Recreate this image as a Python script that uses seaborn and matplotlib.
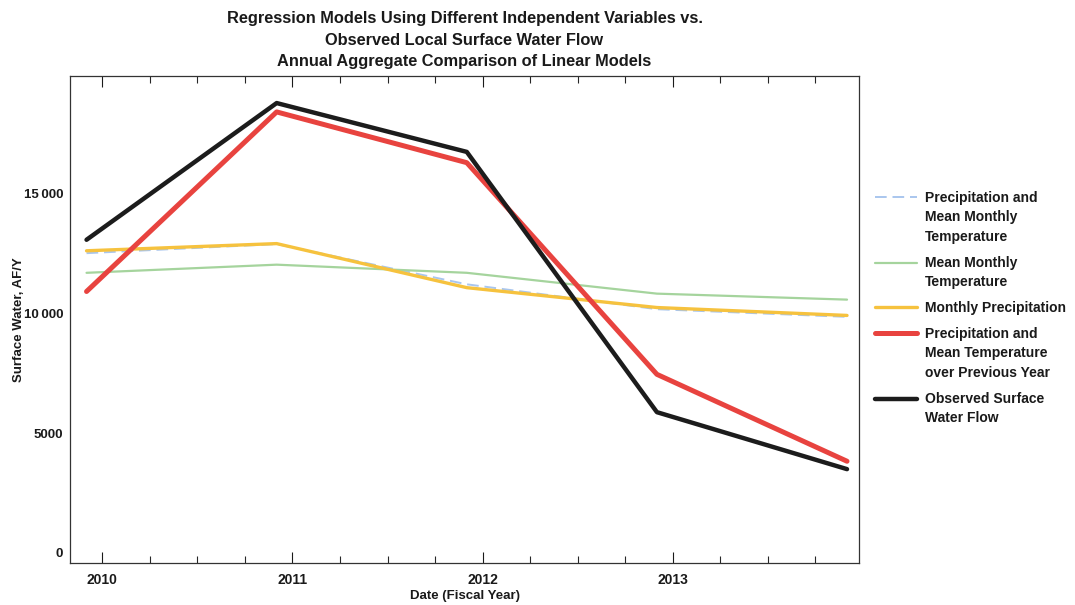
import pandas as pd
import matplotlib
matplotlib.use("Agg")
import matplotlib.pyplot as plt
import seaborn as sns
from matplotlib.legend_handler import HandlerLine2D
from matplotlib.ticker import MultipleLocator

# Datos (valores anuales, AF/Y)
fechas = [2009.917, 2010.917, 2011.917, 2012.917, 2013.917]
precip_y_temp = [12520, 12900, 11220, 10180, 9860]
temp_mensual = [11700, 12040, 11700, 10830, 10580]
precip_mensual = [12620, 12920, 11080, 10250, 9920]
precip_temp_anterior = [10920, 18420, 16300, 7460, 3830]
observado = [13080, 18790, 16750, 5880, 3500]

etiquetas = [
    "Precipitation and\nMean Monthly\nTemperature",
    "Mean Monthly\nTemperature",
    "Monthly Precipitation",
    "Precipitation and\nMean Temperature\nover Previous Year",
    "Observed Surface\nWater Flow",
]
anios = [2010, 2011, 2012, 2013]
yticks = [0, 5000, 10000, 15000]
yticklabels = ["0", "5000", "10\u2009000", "15\u2009000"]

sns.set_theme(style="ticks")
plt.rcParams['font.family'] = ['Liberation Sans', 'DejaVu Sans']
plt.rcParams['font.weight'] = 'bold'


class HandlerArriba(HandlerLine2D):
    # coloca la linea del legend a la altura de la primera linea del texto
    def __init__(self, shift, **kw):
        super().__init__(**kw)
        self.shift = shift

    def create_artists(self, legend, orig_handle, xdescent, ydescent,
                       width, height, fontsize, trans):
        return super().create_artists(legend, orig_handle, xdescent,
                                      ydescent - 2 * self.shift, width,
                                      height, fontsize, trans)


fig = plt.figure(figsize=(10.75, 6.05), dpi=100)
ax = fig.add_axes([70 / 1075, 1 - 563 / 605, (859 - 70) / 1075, (563 - 76) / 605])

series = [
    (precip_y_temp, "#a9c6ee", 1.4, (0, (6, 3))),
    (temp_mensual, "#a5d49d", 1.6, "-"),
    (precip_mensual, "#f6c23e", 2.4, "-"),
    (precip_temp_anterior, "#e8433f", 3.6, "-"),
    (observado, "#1c1c1c", 3.2, "-"),
]

for (valores, color, lw, ls), etiqueta in zip(series, etiquetas):
    df = pd.DataFrame({'Fecha': fechas, 'Valor': valores})
    sns.lineplot(x='Fecha', y='Valor', data=df, ax=ax, color=color,
                 linewidth=lw, linestyle=ls, label=etiqueta, legend=False)

ax.set_xlim(2009.83, 2013.98)
ax.set_ylim(-420, 19920)
ax.set_xticks(anios)
ax.set_xticklabels([str(a) for a in anios])
ax.xaxis.set_minor_locator(MultipleLocator(0.25))
ax.set_yticks(yticks)
ax.set_yticklabels(yticklabels)
ax.tick_params(axis='x', which='major', direction='in', length=8, width=0.8,
               top=True, bottom=True, pad=7, labelsize=10, colors='#1a1a1a')
ax.tick_params(axis='x', which='minor', direction='in', length=5, width=0.8,
               top=True, bottom=True)
ax.tick_params(axis='y', which='major', direction='in', length=0, pad=5,
               labelsize=9.5, colors='#1a1a1a')
for lbl in ax.get_xticklabels() + ax.get_yticklabels():
    lbl.set_fontweight('bold')
for s in ax.spines.values():
    s.set_linewidth(0.9)
    s.set_color('#333333')

ax.set_xlabel('Date (Fiscal Year)', fontsize=9.5, fontweight='bold',
              labelpad=2, color='#1a1a1a')
ax.set_ylabel('Surface Water, AF/Y', fontsize=9.5, fontweight='bold',
              labelpad=-1, color='#1a1a1a')
ax.set_title('Regression Models Using Different Independent Variables vs.\n'
             'Observed Local Surface Water Flow\n'
             'Annual Aggregate Comparison of Linear Models',
             fontsize=11.8, fontweight='bold', linespacing=1.55, pad=7,
             color='#1a1a1a')

fs = 10
interlinea = 1.5
alto_linea = interlinea * 1.0 * fs
lineas = ax.get_lines()
handler_map = {}
for ln, etiqueta in zip(lineas, etiquetas):
    n = etiqueta.count("\n")
    handler_map[ln] = HandlerArriba(shift=n * alto_linea / 2)

leg = fig.legend(lineas, etiquetas, loc='upper left',
                 bbox_to_anchor=(875 / 1075, 1 - 191 / 605),
                 frameon=False, borderaxespad=0, borderpad=0,
                 handlelength=3.0, handletextpad=0.6, labelspacing=0.85,
                 handler_map=handler_map,
                 prop={'weight': 'bold', 'size': fs})
for t in leg.get_texts():
    t.set_linespacing(interlinea)
    t.set_color('#1a1a1a')

plt.savefig('out.png', dpi=100)
